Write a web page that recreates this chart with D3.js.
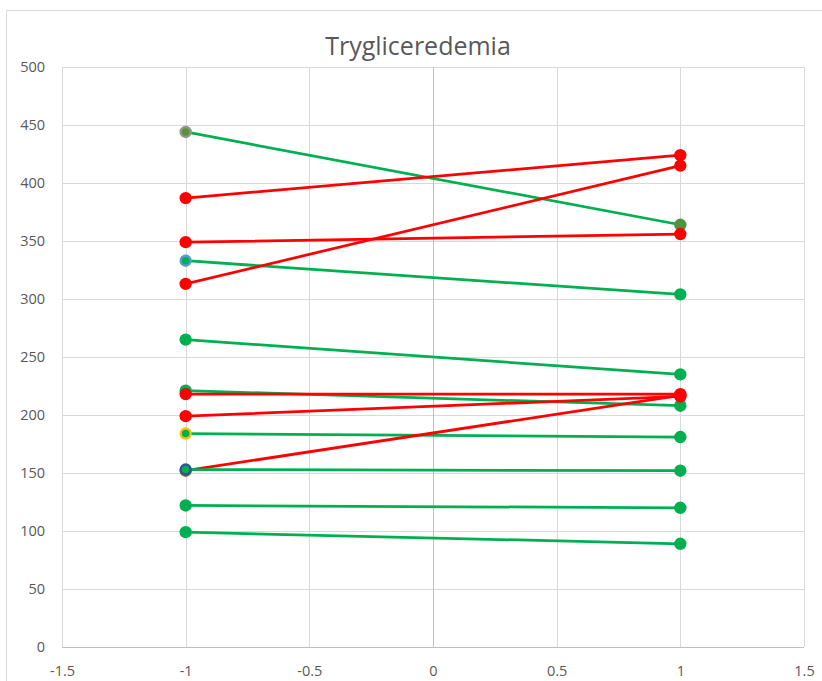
<!DOCTYPE html>
<html><head><meta charset="utf-8">
<script src="https://cdn.jsdelivr.net/npm/d3@7"></script>
<style>body{margin:0;background:#fff}svg{display:block}</style>
</head><body>
<svg id="c" width="822" height="681"></svg>
<script>
const title = "Trygliceredemia";
const xPositions = [-1, 1];
const leftValues  = [444, 387, 349, 333, 313, 265, 221, 218, 199, 184, 152, 153, 122, 99];
const rightValues = [364, 424, 356, 304, 415, 235, 208, 218, 216, 181, 217, 152, 120, 89];
const lineColors  = ["#00b050","#ff0000","#ff0000","#00b050","#ff0000","#00b050","#00b050","#ff0000","#ff0000","#00b050","#ff0000","#00b050","#00b050","#00b050"];
const leftMarkerFill   = ["#5b8f42","#ff0000","#ff0000","#00b050","#ff0000","#00b050","#00b050","#ff0000","#ff0000","#00b050","#b04a1a","#00b050","#00b050","#00b050"];
const leftMarkerStroke = ["#8c9a86","#ff0000","#ff0000","#5b9bd5","#ff0000","#00b050","#00b050","#ff0000","#ff0000","#ffc000","#9e6a14","#2f5597","#00b050","#00b050"];
const rightMarkerFill  = ["#4f9440","#ff0000","#ff0000","#00b050","#ff0000","#00b050","#00b050","#ff0000","#ff0000","#00b050","#ff0000","#00b050","#00b050","#00b050"];
const xTicks = [-1.5, -1, -0.5, 0, 0.5, 1, 1.5];
const yTicks = [0, 50, 100, 150, 200, 250, 300, 350, 400, 450, 500];

const svg = d3.select("#c");
const font = "'Open Sans', 'Noto Sans', sans-serif";
svg.append("path").attr("d","M6.5,681 V10.5 H822").attr("fill","none").attr("stroke","#d9d9d9");

const x = d3.scaleLinear().domain([-1.5, 1.5]).range([62, 804]);
const y = d3.scaleLinear().domain([0, 500]).range([647, 67]);

const g = svg.append("g");
g.selectAll("line.h").data(yTicks).join("line")
  .attr("x1", x(-1.5)).attr("x2", x(1.5))
  .attr("y1", d => Math.round(y(d)) + 0.5).attr("y2", d => Math.round(y(d)) + 0.5)
  .attr("stroke", d => d === 0 ? "#bfbfbf" : "#d9d9d9").attr("stroke-width", 1);
g.selectAll("line.v").data(xTicks).join("line")
  .attr("y1", y(0)).attr("y2", y(500))
  .attr("x1", d => Math.round(x(d)) + 0.5).attr("x2", d => Math.round(x(d)) + 0.5)
  .attr("stroke", d => d === 0 ? "#bfbfbf" : "#d9d9d9").attr("stroke-width", 1);

const yAxis = d3.axisLeft(y).tickValues(yTicks).tickSize(0).tickPadding(17);
const ya = svg.append("g").attr("transform", `translate(${x(-1.5)},0)`).call(yAxis);
ya.select(".domain").remove();
ya.selectAll("text").attr("fill","#595959").style("font-family", font).style("font-size","14.5px");

const xAxis = d3.axisBottom(x).tickValues(xTicks).tickSize(0).tickPadding(19).tickFormat(d3.format("~g"));
const xa = svg.append("g").attr("transform", `translate(0,${y(0)})`).call(xAxis);
xa.select(".domain").remove();
xa.selectAll("text").attr("fill","#595959").style("font-family", font).style("font-size","14.5px")
  .text(d => d3.format("~g")(d).replace("−","-"));

svg.append("text").attr("x", 418).attr("y", 55).attr("text-anchor","middle")
  .attr("fill","#595959").style("font-family", font).style("font-size","25px").text(title);

const series = leftValues.map((v, i) => ({i, a: v, b: rightValues[i]}));
const sg = svg.append("g");
series.forEach(s => {
  const grp = sg.append("g");
  grp.append("line")
    .attr("x1", x(xPositions[0])).attr("y1", y(s.a))
    .attr("x2", x(xPositions[1])).attr("y2", y(s.b))
    .attr("stroke", lineColors[s.i]).attr("stroke-width", 2.75).attr("stroke-linecap","round");
  grp.append("circle").attr("cx", x(xPositions[0])).attr("cy", y(s.a)).attr("r", 5)
    .attr("fill", leftMarkerFill[s.i]).attr("stroke", leftMarkerStroke[s.i]).attr("stroke-width", 2.4);
  grp.append("circle").attr("cx", x(xPositions[1])).attr("cy", y(s.b)).attr("r", 5)
    .attr("fill", rightMarkerFill[s.i]).attr("stroke", rightMarkerFill[s.i]).attr("stroke-width", 2.4);
});
</script>
</body></html>
